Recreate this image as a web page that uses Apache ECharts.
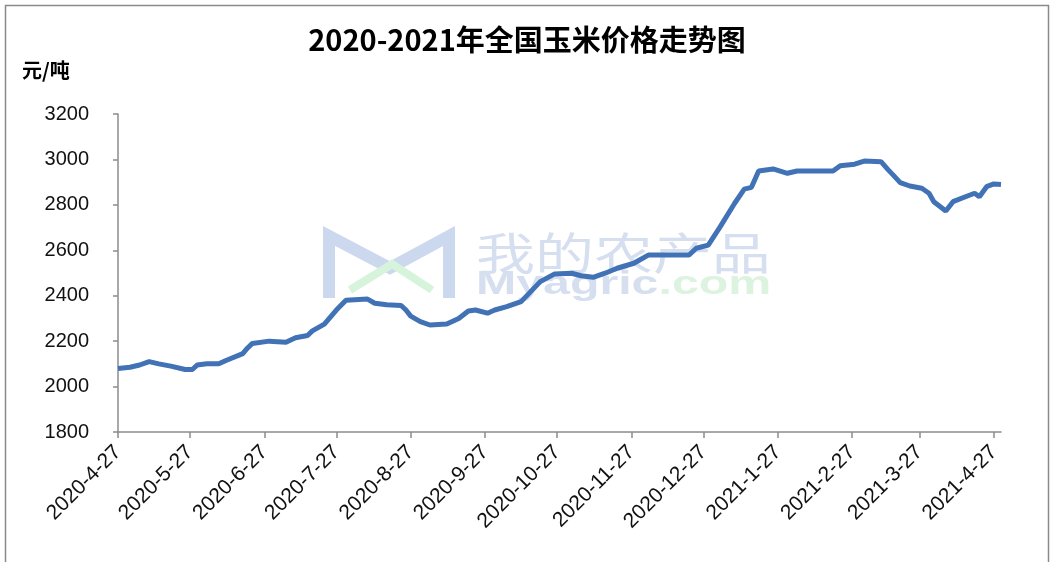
<!DOCTYPE html>
<html>
<head>
<meta charset="utf-8">
<script src="https://cdn.jsdelivr.net/npm/echarts@6/dist/echarts.min.js"></script>
<style>
html,body{margin:0;padding:0;background:#fff;}
#chart{width:1054px;height:562px;}
</style>
</head>
<body>
<div id="chart"></div>
<script>
// ---- data ----
const titleText = '2020-2021年全国玉米价格走势图';
const unitText = '元/吨';
const axisStart = '2020-4-27';
const axisEnd = '2021-4-30';
const tickLabels = ['2020-4-27','2020-5-27','2020-6-27','2020-7-27','2020-8-27','2020-9-27','2020-10-27',
  '2020-11-27','2020-12-27','2021-1-27','2021-2-27','2021-3-27','2021-4-27'];
const priceDates = [
  '2020-4-27','2020-5-2','2020-5-6','2020-5-10','2020-5-14','2020-5-19','2020-5-25','2020-5-28','2020-5-30',
  '2020-6-3','2020-6-8','2020-6-11','2020-6-18','2020-6-20','2020-6-22','2020-6-29',
  '2020-7-6','2020-7-10','2020-7-15','2020-7-17','2020-7-22','2020-7-27','2020-7-31',
  '2020-8-9','2020-8-12','2020-8-17','2020-8-23','2020-8-25','2020-8-27','2020-8-31',
  '2020-9-4','2020-9-11','2020-9-16','2020-9-20','2020-9-23','2020-9-28',
  '2020-10-1','2020-10-6','2020-10-12','2020-10-16','2020-10-20','2020-10-26',
  '2020-11-2','2020-11-6','2020-11-11','2020-11-16','2020-11-21','2020-11-28',
  '2020-12-4','2020-12-12','2020-12-21','2020-12-24','2020-12-29',
  '2021-1-3','2021-1-9','2021-1-13','2021-1-16','2021-1-19','2021-1-25','2021-1-31',
  '2021-2-4','2021-2-19','2021-2-22','2021-2-28',
  '2021-3-4','2021-3-11','2021-3-14','2021-3-16','2021-3-19','2021-3-23','2021-3-28','2021-3-31',
  '2021-4-2','2021-4-7','2021-4-10','2021-4-16','2021-4-19','2021-4-21','2021-4-24','2021-4-27','2021-4-30'
];
const priceValues = [
  2080,2085,2095,2110,2100,2090,2075,2075,2095,
  2100,2100,2115,2145,2170,2190,2200,
  2195,2215,2225,2245,2275,2337,2380,
  2385,2367,2360,2357,2337,2310,2286,
  2271,2275,2300,2333,2337,2323,
  2337,2352,2374,2418,2462,2496,
  2499,2488,2481,2499,2521,2543,
  2579,2579,2579,2609,2623,
  2704,2807,2869,2877,2949,2958,2939,
  2949,2949,2972,2979,
  2993,2990,2954,2932,2898,2883,2873,2851,
  2814,2773,2814,2839,2851,2836,2880,2892,2890
];
const yMin = 1800, yMax = 3200, yStep = 200;

// ---- build daily category axis ----
function parseD(s){const p=s.split('-').map(Number);return Date.UTC(p[0],p[1]-1,p[2]);}
function fmtD(t){const d=new Date(t);return d.getUTCFullYear()+'-'+(d.getUTCMonth()+1)+'-'+d.getUTCDate();}
const days = [];
for(let t=parseD(axisStart); t<=parseD(axisEnd); t+=86400000){ days.push(fmtD(t)); }
const seriesData = days.map(()=>null);
priceDates.forEach((d,i)=>{ const k=days.indexOf(d); if(k>=0) seriesData[k]=priceValues[i]; });
const tickSet = new Set(tickLabels);
const showTick = (idx, val) => tickSet.has(val);

const chart = echarts.init(document.getElementById('chart'), null, {renderer:'canvas'});
chart.setOption({
  animation:false,
  backgroundColor:'#fff',
  title:{
    text:titleText, left:'center', top:20,
    textStyle:{fontFamily:'"Noto Sans CJK SC"', fontWeight:'bold', fontSize:29, color:'#000'}
  },
  grid:{left:118, right:53, top:114, bottom:130, containLabel:false},
  xAxis:{
    type:'category', data:days, boundaryGap:false,
    axisLine:{lineStyle:{color:'#8c8c8c', width:1.5}},
    axisTick:{show:true, interval:showTick, length:6, lineStyle:{color:'#8c8c8c', width:1.5}},
    axisLabel:{interval:showTick, rotate:45, fontSize:21, color:'#111', margin:17,
      fontFamily:'"Liberation Sans", Arial, sans-serif'},
    splitLine:{show:false}
  },
  yAxis:{
    type:'value', min:yMin, max:yMax, interval:yStep,
    axisLine:{show:true, lineStyle:{color:'#8c8c8c', width:1.5}},
    axisTick:{show:true, length:5, lineStyle:{color:'#8c8c8c', width:1.5}},
    axisLabel:{fontSize:20, color:'#111', margin:29, formatter:(v)=>String(v),
      fontFamily:'"Liberation Sans", Arial, sans-serif'},
    splitLine:{show:false}
  },
  graphic:[
    {type:'rect', z:-10, shape:{x:5.5, y:5.5, width:1043, height:620}, style:{fill:null, stroke:'#8a8a8a', lineWidth:1.5}},
    {type:'text', left:22, top:60, style:{text:unitText, fontFamily:'"Noto Sans CJK SC"', fontWeight:'bold', fontSize:20, fill:'#000'}},
    // watermark
    {type:'polyline', z:-5, shape:{points:[[329,298],[329,236],[390,268],[449,236],[449,298]]},
      style:{stroke:'#ccd8ee', lineWidth:12, fill:null}},
    {type:'polyline', z:-5, shape:{points:[[350,290],[392,264],[432,290]]},
      style:{stroke:'#d6f4dc', lineWidth:8, fill:null}},
    {type:'text', z:-5, x:476, y:231, scaleX:1.34, style:{text:'我的农产品', fontFamily:'"Noto Sans CJK SC"', fontSize:44, fill:'#d6dff0'}},
    {type:'text', z:-5, x:476, y:268, scaleX:1.42, style:{rich:{a:{fontSize:34, fontWeight:'bold', fill:'#d6dff0', fontFamily:'"Liberation Sans"'}, b:{fontSize:34, fontWeight:'bold', fill:'#dcf3e0', fontFamily:'"Liberation Sans"'}}, text:'{a|Myagric}{b|.com}'}}
  ],
  series:[{
    type:'line', data:seriesData, connectNulls:true, showSymbol:false, smooth:false,
    lineStyle:{color:'#4272b6', width:5}, itemStyle:{color:'#4272b6'}, z:5
  }]
});
</script>
</body>
</html>
